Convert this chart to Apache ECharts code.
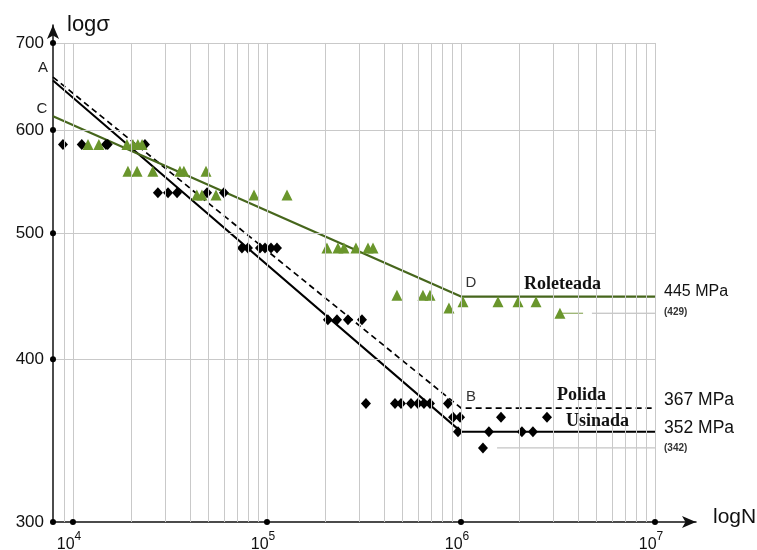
<!DOCTYPE html>
<html>
<head>
<meta charset="utf-8">
<script src="https://cdn.jsdelivr.net/npm/echarts/dist/echarts.min.js"></script>
<style>
html, body { margin: 0; padding: 0; background: #fff; }
#chart { width: 757px; height: 550px; }
</style>
</head>
<body>
<div id="chart"></div>
<script>
var myChart = echarts.init(document.getElementById('chart'));

var FONT = '"Liberation Sans", Arial, sans-serif';
var SERIF = '"Liberation Serif", "Times New Roman", serif';

// axis ranges (N cycles, sigma MPa)
var nMin = 7890, nMax = 1.627e7;
var sMin = 300, sMax = 722.6;

// ticks / grid
var yTicks = [300, 400, 500, 600, 700];
var xTicks = [1e4, 1e5, 1e6, 1e7];
var gridN = [9000, 1e4, 2e4, 3e4, 4e4, 5e4, 6e4, 7e4, 8e4, 9e4,
    1e5, 2e5, 3e5, 4e5, 5e5, 6e5, 7e5, 8e5, 9e5,
    1e6, 2e6, 3e6, 4e6, 5e6, 6e6, 7e6, 8e6, 9e6, 1e7];
var gridS = [400, 500, 600, 700];

// S-N curves [N, sigma]
var usinada = [[7890, 655], [1e6, 352], [1e7, 352]];
var polida = [[7890, 659], [1e6, 367], [1e7, 367]];
var roleteada = [[7890, 615], [1e6, 447], [1e7, 447]];

// test points, black diamonds
var diamonds = [
    [8880, 585], [11100, 585], [14800, 585], [15100, 585], [23500, 585],
    [27400, 537], [30900, 537], [34400, 537], [49100, 537], [60000, 537],
    [74300, 487], [79800, 487], [92000, 487], [97700, 487], [104900, 487], [112600, 487],
    [206000, 429], [229500, 429], [261500, 429], [308800, 429],
    [323700, 370], [456900, 370], [490600, 370], [552400, 370], [600100, 370], [644300, 370], [692200, 370], [856800, 370],
    [910400, 361], [989000, 361], [1608000, 361], [2775000, 361],
    [965000, 352], [1393000, 352], [2061000, 352], [2349000, 352],
    [1298000, 342]
];

// test points, green triangles
var triangles = [
    [11950, 585], [13600, 585], [18970, 585], [20370, 585], [21600, 585], [22700, 585],
    [19200, 558], [21400, 558], [25800, 558], [35600, 558], [37300, 558], [48500, 558],
    [43500, 535], [46200, 535], [54600, 535], [85700, 535], [126800, 535],
    [203700, 487], [232200, 487], [249300, 487], [287500, 487], [331600, 487], [351900, 487],
    [467700, 448], [636700, 448], [692200, 448],
    [866700, 438],
    [1024000, 443], [1552000, 443], [1968000, 443], [2437000, 443],
    [3236000, 434]
];

// reference leaders
var lead342 = [[1.535e6, 342], [1e7, 342]];
var lead429green = [[3.236e6, 434], [4.26e6, 434]];
var lead429 = [[4.73e6, 434], [1e7, 434]];

var gridLines = [];
gridN.forEach(function (n) {
    gridLines.push([{ coord: [n, sMin] }, { coord: [n, 700] }]);
});
gridS.forEach(function (s) {
    gridLines.push([{ coord: [nMin, s] }, { coord: [1e7, s] }]);
});

function txt(x, y, text, font, align, color) {
    return {
        type: 'text', x: x, y: y, z: 10,
        style: { text: text, font: font, fill: color || '#111', textAlign: align || 'left', textVerticalAlign: 'middle' }
    };
}

option = {
    animation: false,
    backgroundColor: '#fff',
    grid: { left: 53, right: 61, top: 25, bottom: 28 },
    xAxis: {
        type: 'log', min: nMin, max: nMax,
        axisLine: { show: true, symbol: ['none', 'arrow'], symbolSize: [9, 14], lineStyle: { color: '#111', width: 1.5 } },
        axisTick: { show: false }, axisLabel: { show: false }, splitLine: { show: false }
    },
    yAxis: {
        type: 'log', min: sMin, max: sMax,
        axisLine: { show: true, symbol: ['none', 'arrow'], symbolSize: [9, 14], lineStyle: { color: '#111', width: 1.5 } },
        axisTick: { show: false }, axisLabel: { show: false }, splitLine: { show: false }
    },
    series: [
        {
            type: 'line', data: [], z: 1, silent: true,
            markLine: {
                silent: true, symbol: 'none', animation: false,
                label: { show: false },
                lineStyle: { color: '#c9c9c9', width: 1, type: 'solid' },
                data: gridLines
            }
        },
        { type: 'line', data: lead342, z: 2, showSymbol: false, lineStyle: { color: '#b5b5b5', width: 1 } },
        { type: 'line', data: lead429, z: 2, showSymbol: false, lineStyle: { color: '#b5b5b5', width: 1 } },
        { type: 'line', data: lead429green, z: 2, showSymbol: false, lineStyle: { color: '#7a9c44', width: 1 } },
        { name: 'Usinada', type: 'line', data: usinada, z: 3, showSymbol: false, lineStyle: { color: '#000', width: 2 } },
        { name: 'Polida', type: 'line', data: polida, z: 3, showSymbol: false, lineStyle: { color: '#000', width: 1.7, type: [6, 4] } },
        { name: 'Roleteada', type: 'line', data: roleteada, z: 3, showSymbol: false, lineStyle: { color: '#46661c', width: 2.2 } },
        {
            type: 'scatter', data: diamonds, z: 4, symbol: 'diamond', symbolSize: [10, 11],
            itemStyle: { color: '#000', opacity: 1 }
        },
        {
            type: 'scatter', data: triangles, z: 4, symbol: 'triangle', symbolSize: [11, 11],
            itemStyle: { color: '#6a962c', opacity: 1 }
        },
        {
            type: 'scatter', z: 5, clip: false, symbol: 'circle', symbolSize: 6,
            itemStyle: { color: '#000', opacity: 1 },
            data: yTicks.map(function (s) { return [nMin, s]; }),
            label: {
                show: true, position: 'left', distance: 6, color: '#111', fontFamily: FONT, fontSize: 17,
                formatter: function (p) { return p.value[1]; }
            }
        },
        {
            type: 'scatter', z: 5, clip: false, symbol: 'circle', symbolSize: 6,
            itemStyle: { color: '#000', opacity: 1 },
            data: xTicks.map(function (n) { return [n, sMin]; }),
            label: {
                show: true, position: 'bottom', distance: 6, offset: [-4, 0],
                formatter: function (p) { return '{b|10}{s|' + Math.round(Math.log10(p.value[0])) + '}'; },
                rich: {
                    b: { fontFamily: FONT, fontSize: 16, color: '#111', verticalAlign: 'bottom', lineHeight: 22 },
                    s: { fontFamily: FONT, fontSize: 12, color: '#111', verticalAlign: 'top', lineHeight: 22 }
                }
            }
        }
    ],
    graphic: [
        txt(67, 25, 'logσ', '22px ' + FONT),
        txt(713, 517, 'logN', '21px ' + FONT),
        txt(43, 68, 'A', '15px ' + FONT, 'center', '#222'),
        txt(42, 109, 'C', '15px ' + FONT, 'center', '#222'),
        txt(471, 397, 'B', '15px ' + FONT, 'center', '#333'),
        txt(471, 283, 'D', '15px ' + FONT, 'center', '#333'),
        txt(524, 284, 'Roleteada', 'bold 18px ' + SERIF),
        txt(557, 395, 'Polida', 'bold 18px ' + SERIF),
        txt(566, 421, 'Usinada', 'bold 18px ' + SERIF),
        txt(664, 292, '445 MPa', '16px ' + FONT),
        txt(664, 312, '(429)', 'bold 10px ' + FONT, 'left', '#333'),
        txt(664, 400, '367 MPa', '17.5px ' + FONT),
        txt(664, 428, '352 MPa', '17.5px ' + FONT),
        txt(664, 448, '(342)', 'bold 10px ' + FONT, 'left', '#333')
    ]
};

myChart.setOption(option);
</script>
</body>
</html>
